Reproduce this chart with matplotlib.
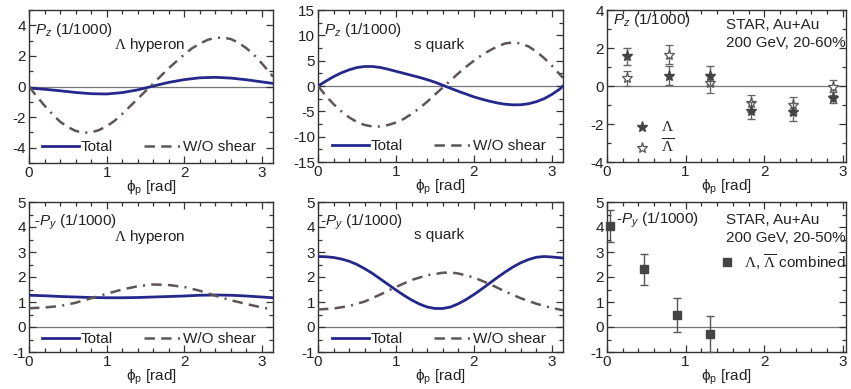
import numpy as np
import matplotlib
matplotlib.use("Agg")
import matplotlib.pyplot as plt
from matplotlib.ticker import MultipleLocator
from matplotlib.lines import Line2D

plt.rcParams['font.family'] = ['Liberation Sans', 'DejaVu Sans']
plt.rcParams['mathtext.fontset'] = 'custom'
plt.rcParams['mathtext.rm'] = 'Liberation Serif'
plt.rcParams['mathtext.it'] = 'Liberation Sans:italic'
plt.rcParams['mathtext.sf'] = 'Liberation Sans'
plt.rcParams['mathtext.bf'] = 'Liberation Sans:bold'
plt.rcParams['lines.scale_dashes'] = False
plt.rcParams['axes.unicode_minus'] = False

PI = np.pi
# ---------------- data ----------------
# Panel 1: Pz, Lambda hyperon
pz_lam_tot_x = [0, 0.2, 0.4, 0.6, 0.8, 1.0, 1.2, 1.4, 1.6, 1.8, 2.0, 2.2, 2.4, 2.6, 2.8, 3.0, PI]
pz_lam_tot_y = [-0.10, -0.18, -0.28, -0.39, -0.47, -0.49, -0.40, -0.22, 0.03, 0.27, 0.45, 0.57, 0.60, 0.55, 0.44, 0.30, 0.20]
pz_lam_wo_x = [0, 0.1, 0.2, 0.3, 0.4, 0.5, 0.6, 0.7, 0.8, 0.9, 1.0, 1.1, 1.2, 1.3, 1.4, 1.5, 1.6,
               1.7, 1.8, 1.9, 2.0, 2.1, 2.2, 2.3, 2.4, 2.5, 2.6, 2.7, 2.8, 2.9, 3.0, 3.1, PI]
pz_lam_wo_y = [0.0, -0.65, -1.25, -1.8, -2.3, -2.65, -2.9, -3.02, -3.0, -2.85, -2.6, -2.25, -1.8, -1.3,
               -0.8, -0.3, 0.2, 0.7, 1.2, 1.65, 2.1, 2.5, 2.8, 3.05, 3.18, 3.2, 3.1, 2.85, 2.5, 2.05,
               1.5, 0.9, 0.65]

# Panel 2: Pz, s quark
pz_s_tot_x = [0, 0.1, 0.2, 0.3, 0.4, 0.5, 0.6, 0.7, 0.8, 0.9, 1.0, 1.1, 1.2, 1.3, 1.4, 1.5, 1.6,
              1.7, 1.8, 1.9, 2.0, 2.1, 2.2, 2.3, 2.4, 2.5, 2.6, 2.7, 2.8, 2.9, 3.0, 3.1, PI]
pz_s_tot_y = [0, 0.95, 1.85, 2.6, 3.2, 3.65, 3.85, 3.85, 3.65, 3.3, 2.9, 2.5, 2.1, 1.7, 1.25, 0.75,
              0.15, -0.45, -1.05, -1.6, -2.15, -2.6, -3.0, -3.35, -3.6, -3.72, -3.7, -3.5, -3.1,
              -2.5, -1.65, -0.6, 0]
pz_s_wo_x = pz_s_tot_x
pz_s_wo_y = [0, -1.9, -3.6, -5.0, -6.2, -7.1, -7.7, -8.0, -8.0, -7.7, -7.2, -6.5, -5.5, -4.4, -3.1,
             -1.7, -0.3, 1.1, 2.5, 3.8, 5.0, 6.1, 7.0, 7.8, 8.4, 8.6, 8.4, 7.8, 6.8, 5.5, 4.0, 2.3, 1.6]

# Panel 3: STAR Pz data
star_pz_x = [0.26, 0.79, 1.31, 1.83, 2.36, 2.88]
star_pz_lam = [1.56, 0.55, 0.53, -1.31, -1.37, -0.62]
star_pz_lam_err = [0.45, 0.48, 0.5, 0.45, 0.45, 0.3]
star_pz_alam = [0.41, 1.65, 0.14, -0.92, -1.01, -0.07]
star_pz_alam_err = [0.4, 0.5, 0.5, 0.45, 0.45, 0.4]

# Panel 4: -Py, Lambda hyperon
py_lam_tot_x = [0, 0.2, 0.4, 0.6, 0.8, 1.0, 1.2, 1.4, 1.6, 1.8, 2.0, 2.2, 2.4, 2.6, 2.8, 3.0, PI]
py_lam_tot_y = [1.27, 1.25, 1.22, 1.2, 1.18, 1.17, 1.17, 1.18, 1.2, 1.22, 1.24, 1.27, 1.28, 1.27,
                1.24, 1.2, 1.17]
py_lam_wo_x = py_lam_tot_x
py_lam_wo_y = [0.75, 0.78, 0.84, 0.97, 1.15, 1.33, 1.5, 1.63, 1.7, 1.68, 1.6, 1.45, 1.25, 1.07,
               0.92, 0.78, 0.7]

# Panel 5: -Py, s quark
py_s_tot_x = [0, 0.1, 0.2, 0.3, 0.4, 0.5, 0.6, 0.7, 0.8, 0.9, 1.0, 1.1, 1.2, 1.3, 1.4, 1.5, 1.6,
              1.7, 1.8, 1.9, 2.0, 2.1, 2.2, 2.3, 2.4, 2.5, 2.6, 2.7, 2.8, 2.9, 3.0, PI]
py_s_tot_y = [2.82, 2.81, 2.78, 2.72, 2.63, 2.5, 2.33, 2.14, 1.92, 1.7, 1.48, 1.27, 1.08, 0.92,
              0.8, 0.74, 0.74, 0.8, 0.93, 1.1, 1.3, 1.52, 1.75, 1.98, 2.2, 2.4, 2.57, 2.7, 2.79,
              2.82, 2.8, 2.76]
py_s_wo_x = [0, 0.2, 0.4, 0.6, 0.8, 1.0, 1.2, 1.4, 1.6, 1.7, 1.8, 2.0, 2.2, 2.4, 2.6, 2.8, 3.0, PI]
py_s_wo_y = [0.7, 0.74, 0.84, 1.02, 1.3, 1.6, 1.88, 2.07, 2.17, 2.18, 2.14, 1.98, 1.72, 1.42,
             1.15, 0.93, 0.76, 0.67]

# Panel 6: STAR -Py data
star_py_x = [0.04, 0.47, 0.89, 1.31]
star_py_y = [4.04, 2.31, 0.49, -0.27]
star_py_err = [0.63, 0.62, 0.68, 0.72]

# ---------------- style ----------------
W, H = 851, 389
fig = plt.figure(figsize=(W / 100, H / 100), dpi=100)

def add_ax(l, r, t, b):
    return fig.add_axes([l / W, 1 - b / H, (r - l) / W, (b - t) / H])

SOLID = '#25288a'
DASH = '#5e5656'
DASHSTYLE = (0, (7.5, 4.5, 7.5, 4.5, 1.5, 4.5))
FS = 11
TXT = '#222222'
SP = '#333333'

def style(ax, xmax, ylim, ymaj, ymin):
    ax.set_xlim(0, xmax)
    ax.set_ylim(*ylim)
    ax.xaxis.set_major_locator(MultipleLocator(1))
    ax.xaxis.set_minor_locator(MultipleLocator(0.2))
    ax.yaxis.set_major_locator(MultipleLocator(ymaj))
    ax.yaxis.set_minor_locator(MultipleLocator(ymin))
    ax.tick_params(which='both', direction='in', top=True, right=True,
                   colors=SP, labelcolor=TXT, labelsize=FS, width=0.9)
    ax.tick_params(which='major', length=5, pad=2)
    ax.tick_params(which='minor', length=3)
    for s in ax.spines.values():
        s.set_color(SP)
        s.set_linewidth(1.0)
    ax.axhline(0, color='#777777', lw=0.9, zorder=1)
    ax.set_xlabel(r'ϕ$_\mathsf{p}$ [rad]', fontsize=FS, color=TXT, labelpad=-1)

def theory(ax, xt, yt, xw, yw, leg_x, leg_y):
    ax.plot(xt, yt, color=SOLID, lw=2.0, zorder=3)
    ax.plot(xw, yw, color=DASH, lw=1.8, ls=DASHSTYLE, zorder=3)
    h = [Line2D([], [], color=SOLID, lw=2.0),
         Line2D([], [], color=DASH, lw=1.8, ls=DASHSTYLE)]
    ax.legend(h, ['Total', 'W/O shear'], ncol=2, loc='center left',
              bbox_to_anchor=(leg_x, leg_y), frameon=False, fontsize=FS,
              handlelength=2.4, handletextpad=0.15, columnspacing=2.0,
              borderpad=0, borderaxespad=0, labelcolor=TXT)

def t(ax, x, y, s, **kw):
    ax.text(x, y, s, transform=ax.transAxes, fontsize=FS, color=TXT,
            va='center', ha='left', **kw)

# Panel 1
ax1 = add_ax(29, 273, 10, 163)
style(ax1, PI, (-5, 5), 2, 1)
theory(ax1, pz_lam_tot_x, pz_lam_tot_y, pz_lam_wo_x, pz_lam_wo_y, 0.053, 0.105)
t(ax1, 0.025, 0.87, r'$P_z$ (1/1000)')
t(ax1, 0.35, 0.77, r'$\Lambda$ hyperon')

# Panel 2
ax2 = add_ax(318, 563, 10, 162)
style(ax2, PI, (-15, 15), 5, 2.5)
theory(ax2, pz_s_tot_x, pz_s_tot_y, pz_s_wo_x, pz_s_wo_y, 0.057, 0.105)
t(ax2, 0.025, 0.87, r'$P_z$ (1/1000)')
t(ax2, 0.39, 0.77, 's quark')

# Panel 3
ax3 = add_ax(607, 846, 10, 162)
style(ax3, 3.04, (-4, 4), 2, 1)
ax3.errorbar(star_pz_x, star_pz_alam, yerr=star_pz_alam_err, fmt='*', ms=8,
             mfc='white', mec='#555555', mew=0.9, ecolor='#666666', elinewidth=1,
             capsize=3, capthick=1, zorder=3)
ax3.errorbar(star_pz_x, star_pz_lam, yerr=star_pz_lam_err, fmt='*', ms=8,
             mfc='#444444', mec='#444444', ecolor='#666666', elinewidth=1,
             capsize=3, capthick=1, zorder=4)
ax3.plot(0.146, 0.23, transform=ax3.transAxes, marker='*', ms=8, color='#444444', ls='none')
ax3.plot(0.146, 0.09, transform=ax3.transAxes, marker='*', ms=8, mfc='white',
         mec='#555555', mew=0.9, ls='none')
t(ax3, 0.225, 0.23, r'$\Lambda$')
t(ax3, 0.225, 0.10, r'$\overline{\Lambda}$')
t(ax3, 0.025, 0.934, r'$P_z$ (1/1000)')
t(ax3, 0.50, 0.90, 'STAR, Au+Au')
t(ax3, 0.50, 0.78, '200 GeV, 20-60%')

# Panel 4
ax4 = add_ax(29, 273, 202, 352)
style(ax4, PI, (-1, 5), 1, 0.5)
theory(ax4, py_lam_tot_x, py_lam_tot_y, py_lam_wo_x, py_lam_wo_y, 0.053, 0.087)
t(ax4, 0.02, 0.867, r'-$P_y$ (1/1000)')
t(ax4, 0.35, 0.767, r'$\Lambda$ hyperon')

# Panel 5
ax5 = add_ax(318, 563, 202, 352)
style(ax5, PI, (-1, 5), 1, 0.5)
theory(ax5, py_s_tot_x, py_s_tot_y, py_s_wo_x, py_s_wo_y, 0.057, 0.087)
t(ax5, 0.01, 0.867, r'-$P_y$ (1/1000)')
t(ax5, 0.39, 0.78, 's quark')

# Panel 6
ax6 = add_ax(607, 846, 202, 352)
style(ax6, 3.04, (-1, 5), 1, 0.5)
ax6.errorbar(star_py_x, star_py_y, yerr=star_py_err, fmt='s', ms=6,
             mfc='#444444', mec='#444444', ecolor='#555555', elinewidth=1,
             capsize=3, capthick=1, zorder=3, clip_on=False)
ax6.plot(0.50, 0.60, transform=ax6.transAxes, marker='s', ms=5.5, color='#444444', ls='none')
t(ax6, 0.575, 0.60, r'$\Lambda$, $\overline{\Lambda}$ combined')
t(ax6, 0.038, 0.88, r'-$P_y$ (1/1000)')
t(ax6, 0.50, 0.88, 'STAR, Au+Au')
t(ax6, 0.50, 0.76, '200 GeV, 20-50%')

fig.savefig('out.png', dpi=100)
